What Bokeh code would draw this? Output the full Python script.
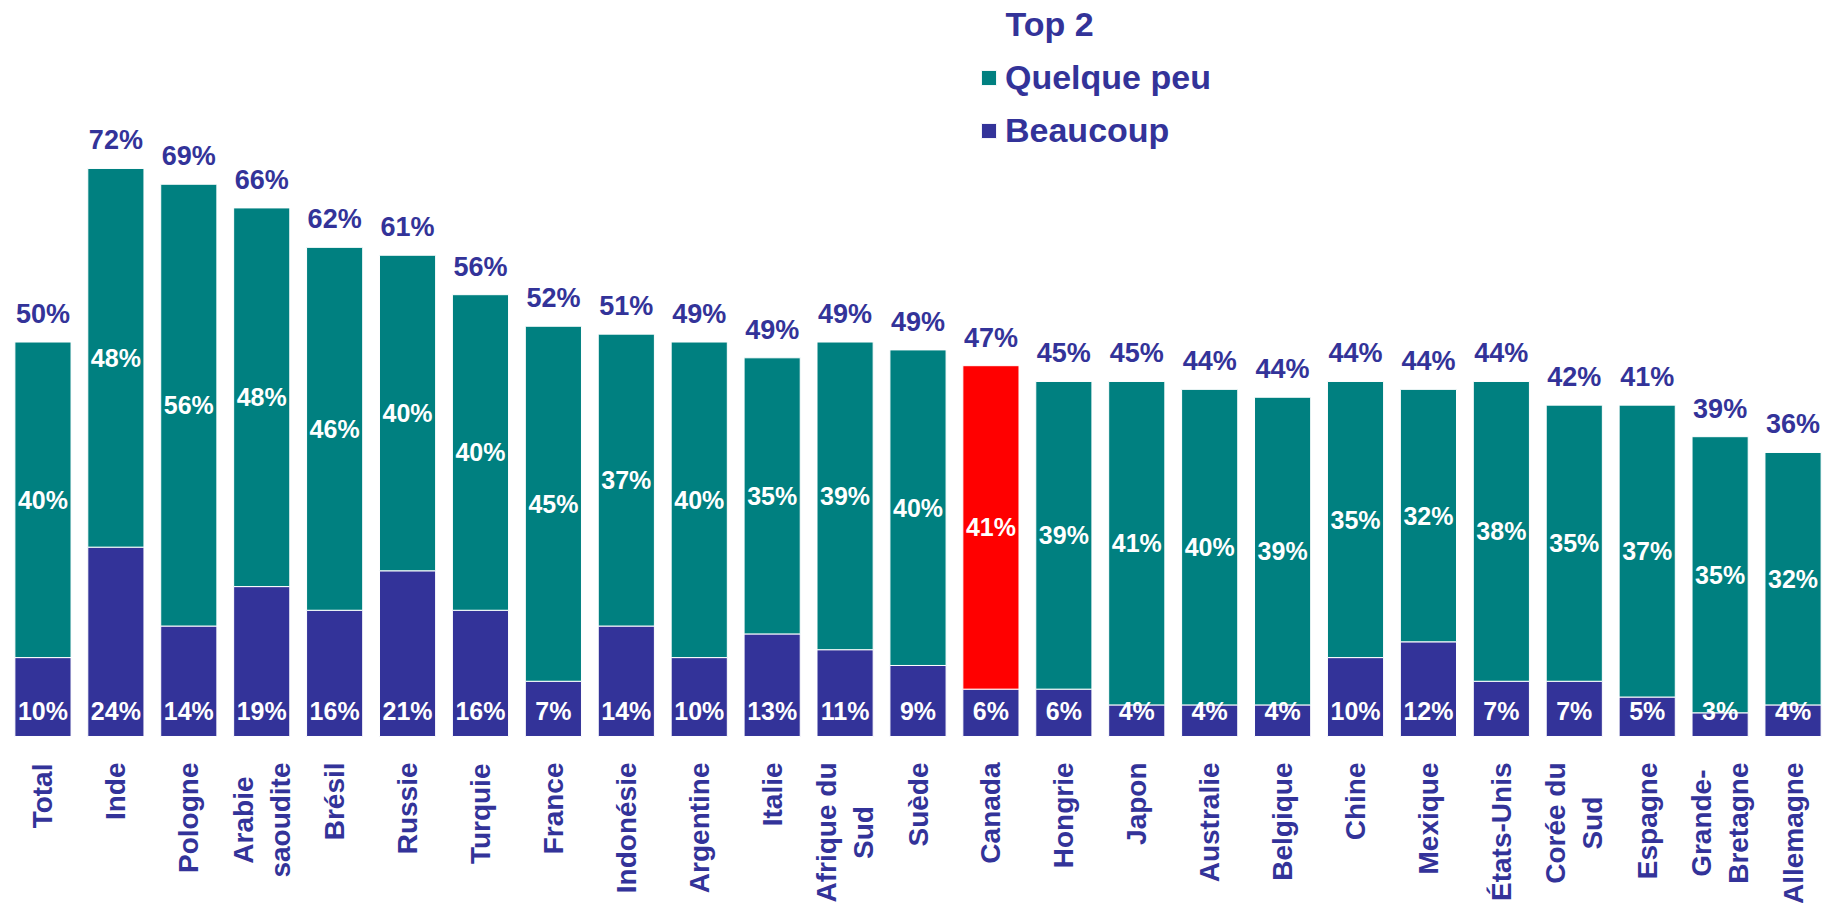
import math
from bokeh.plotting import figure
from bokeh.models import ColumnDataSource, FactorRange, Legend, LegendItem, Label
from bokeh.core.properties import value
from bokeh.embed import file_html
from bokeh.resources import INLINE

categories = ["Total", "Inde", "Pologne", "Arabie saoudite", "Brésil", "Russie", "Turquie",
              "France", "Indonésie", "Argentine", "Italie", "Afrique du Sud", "Suède", "Canada",
              "Hongrie", "Japon", "Australie", "Belgique", "Chine", "Mexique", "États-Unis",
              "Corée du Sud", "Espagne", "Grande-Bretagne", "Allemagne"]
category_labels = ["Total", "Inde", "Pologne", "Arabie\nsaoudite", "Brésil", "Russie", "Turquie",
                   "France", "Indonésie", "Argentine", "Italie", "Afrique du\nSud", "Suède", "Canada",
                   "Hongrie", "Japon", "Australie", "Belgique", "Chine", "Mexique", "États-Unis",
                   "Corée du\nSud", "Espagne", "Grande-\nBretagne", "Allemagne"]
beaucoup = [10, 24, 14, 19, 16, 21, 16, 7, 14, 10, 13, 11, 9, 6, 6, 4, 4, 4, 10, 12, 7, 7, 5, 3, 4]
quelque_peu = [40, 48, 56, 48, 46, 40, 40, 45, 37, 40, 35, 39, 40, 41, 39, 41, 40, 39, 35, 32, 38, 35, 37, 35, 32]
top2 = [50, 72, 69, 66, 62, 61, 56, 52, 51, 49, 49, 49, 49, 47, 45, 45, 44, 44, 44, 44, 44, 42, 41, 39, 36]
highlight = "Canada"

DARK = "#333399"
TEAL = "#008080"
RED = "#FF0000"
FONT = "Liberation Sans"
CAT_PX = 28

# Liberation Sans Bold advance widths (per 1000 em) used to centre multi-line labels
ADV = {" ": 278, "-": 333, "A": 722, "B": 722, "C": 722, "E": 667, "É": 667, "G": 778, "H": 722,
       "I": 278, "J": 556, "M": 833, "P": 667, "R": 722, "S": 667, "T": 611, "U": 722, "F": 611,
       "a": 556, "b": 611, "c": 556, "d": 611, "e": 556, "é": 556, "è": 556, "f": 333, "g": 611,
       "h": 611, "i": 278, "l": 278, "m": 889, "n": 611, "o": 611, "p": 611, "q": 611, "r": 389,
       "s": 556, "t": 333, "u": 611, "x": 556}


def block_len(lbl):
    return max(sum(ADV.get(ch, 600) for ch in line) for line in lbl.split("\n")) * CAT_PX / 1000


stack_top = [b + q for b, q in zip(beaucoup, quelque_peu)]
src = ColumnDataSource(dict(
    cat=categories,
    catlab=category_labels,
    catoff=[26 + block_len(l) / 2 for l in category_labels],
    b=beaucoup,
    q=quelque_peu,
    top=stack_top,
    qmid=[b + q / 2 for b, q in zip(beaucoup, quelque_peu)],
    zero=[0] * len(categories),
    top2=[f"{v}%" for v in top2],
    btxt=[f"{v}%" for v in beaucoup],
    qtxt=[f"{v}%" for v in quelque_peu],
    qcolor=[RED if c == highlight else TEAL for c in categories],
))

W, H = 1837, 903
p = figure(x_range=FactorRange(*categories, range_padding=0), y_range=(-21.17, 93.29),
           width=W, height=H, output_backend="svg", toolbar_location=None,
           min_border=0, min_border_left=6, min_border_right=8, min_border_top=0, min_border_bottom=0)
p.xaxis.visible = False
p.yaxis.visible = False
p.grid.visible = False
p.outline_line_color = None
p.background_fill_color = "white"
p.border_fill_color = "white"

bw = 0.77
r_dark = p.vbar(x="cat", bottom=0, top="b", width=bw, fill_color=DARK, line_color="white",
                line_width=1, source=src)
r_teal = p.vbar(x="cat", bottom="b", top="top", width=bw, fill_color="qcolor", line_color="white",
                line_width=1, source=src)

# labels inside the segments
p.text(x="cat", y="qmid", text="qtxt", source=src, text_align="center", text_baseline="middle",
       text_color="white", text_font=value(FONT), text_font_style="bold", text_font_size="25px")
p.text(x="cat", y="zero", text="btxt", source=src, text_align="center", text_baseline="middle",
       y_offset=-25, text_color="white", text_font=value(FONT), text_font_style="bold",
       text_font_size="25px")
# totals above bars
p.text(x="cat", y="top", text="top2", source=src, text_align="center", text_baseline="middle",
       y_offset=-28, text_color=DARK, text_font=value(FONT), text_font_style="bold",
       text_font_size="27px")
# category labels (rotated, lines centred)
p.text(x="cat", y="zero", text="catlab", source=src, angle=math.pi / 2, text_align="center",
       text_baseline="middle", y_offset="catoff", text_color=DARK, text_font=value(FONT),
       text_font_style="bold", text_font_size=f"{CAT_PX}px", text_line_height=1.2)

legend = Legend(items=[LegendItem(label="Quelque peu", renderers=[r_teal], index=0),
                       LegendItem(label="Beaucoup", renderers=[r_dark], index=0)],
                location=(973, 753), orientation="vertical",
                padding=0, margin=0, spacing=13, border_line_color=None,
                background_fill_alpha=0, glyph_width=19, glyph_height=19, label_height=40,
                label_standoff=7, label_text_font=FONT, label_text_font_style="bold",
                label_text_font_size="34px", label_text_color=DARK)
p.add_layout(legend, "center")

p.add_layout(Label(x=999, y=880, x_units="screen", y_units="screen", text="Top 2",
                   text_font=FONT, text_font_style="bold", text_font_size="34px",
                   text_color=DARK, text_baseline="middle"))

open("out.html", "w").write(file_html(p, INLINE))
